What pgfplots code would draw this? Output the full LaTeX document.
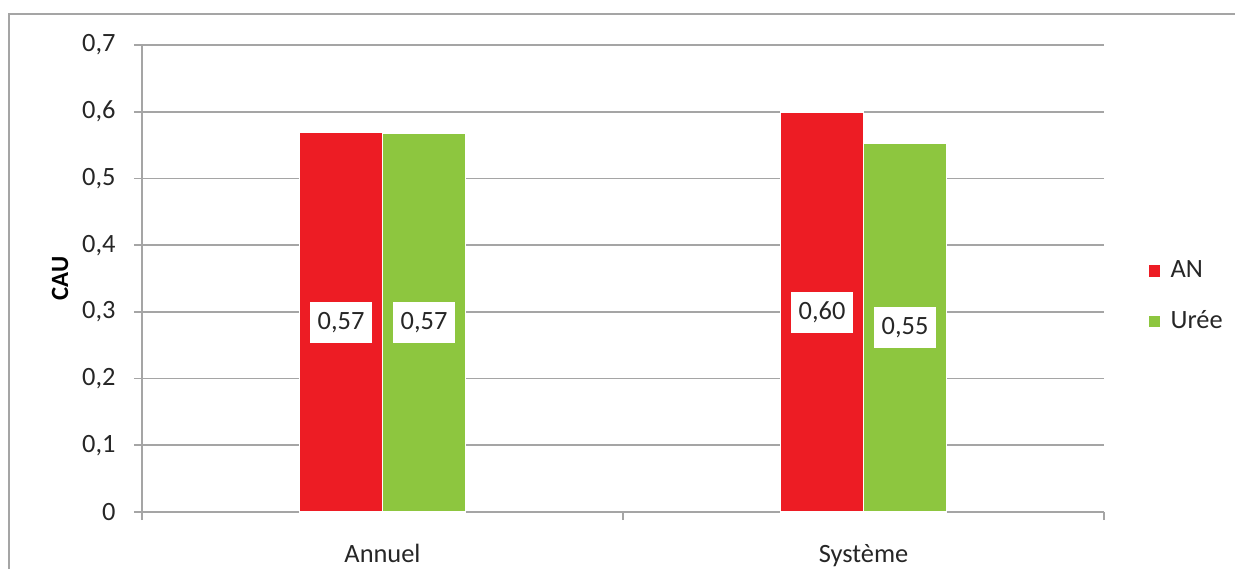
\documentclass[border=0pt]{standalone}
\usepackage{pgfplots}
\pgfplotsset{compat=1.18}
\usepackage{fontspec}
\setmainfont{Carlito}
\definecolor{barred}{RGB}{237,28,36}
\definecolor{bargreen}{RGB}{141,198,63}
\definecolor{axgray}{RGB}{165,165,165}
\definecolor{txt}{RGB}{38,38,38}
\begin{document}
\begin{tikzpicture}
\path[use as bounding box] (0,0) rectangle (617.5pt,284.5pt);
\draw[axgray, line width=0.9pt] (4.5pt,0) -- (4.5pt,277.5pt) -- (617.5pt,277.5pt);
\begin{axis}[
  at={(71pt,28.5pt)}, anchor=south west,
  scale only axis, width=481pt, height=233.5pt,
  ybar=0pt, bar width=41.5pt,
  xmin=-0.5, xmax=1.5, ymin=0, ymax=0.7,
  axis x line*=bottom, axis y line*=left,
  axis line style={axgray, line width=0.9pt},
  xtick={-0.5,0.5,1.5}, xticklabels={Annuel,Système,{}},
  xticklabel style={xshift=120.25pt, inner sep=0pt, yshift=-12pt, text=txt},
  ytick={0,0.1,0.2,0.3,0.4,0.5,0.6,0.7},
  yticklabel style={inner sep=0pt, xshift=-9pt, text=txt},
  tick align=outside, major tick length=4pt,
  tick style={axgray, line width=0.9pt},
  ymajorgrids, grid style={axgray, line width=0.9pt},
  /pgf/number format/use comma,
  /pgf/number format/assume math mode=true,
  ticklabel style={font=\fontsize{13.2pt}{15pt}\selectfont},
  ylabel={CAU},
  ylabel style={at={(axis description cs:-0.0852,0.5)}, anchor=center, font=\fontsize{12.4pt}{14pt}\selectfont\bfseries, text=black},
  visualization depends on={y \as \rawy},
  nodes near coords={\pgfmathprintnumber[fixed,fixed zerofill,precision=2,use comma,assume math mode=true]{\pgfplotspointmeta}},
  every node near coord/.append style={fill=white, inner xsep=4pt, inner ysep=0pt, minimum height=20.5pt, anchor=center, yshift=-\rawy*166.79pt, text=txt, font=\fontsize{13.2pt}{15pt}\selectfont},
  legend style={at={(axis description cs:1,0.4615)}, anchor=west, xshift=21.5pt, draw=none, fill=none, inner sep=0pt, row sep=15pt, column sep=4.5pt, font=\fontsize{13.2pt}{15pt}\selectfont, nodes={inner sep=0pt, text=txt}},
  legend cell align=left,
  legend image code/.code={\fill[#1] (0pt,-3.25pt) rectangle (6.5pt,3.25pt);},
]
\addplot[fill=barred, draw=white, line width=0.6pt] coordinates {(0,0.569) (1,0.5996)};
\addplot[fill=bargreen, draw=white, line width=0.6pt] coordinates {(0,0.567) (1,0.552)};
\legend{AN,Urée}
\end{axis}
\end{tikzpicture}
\end{document}
